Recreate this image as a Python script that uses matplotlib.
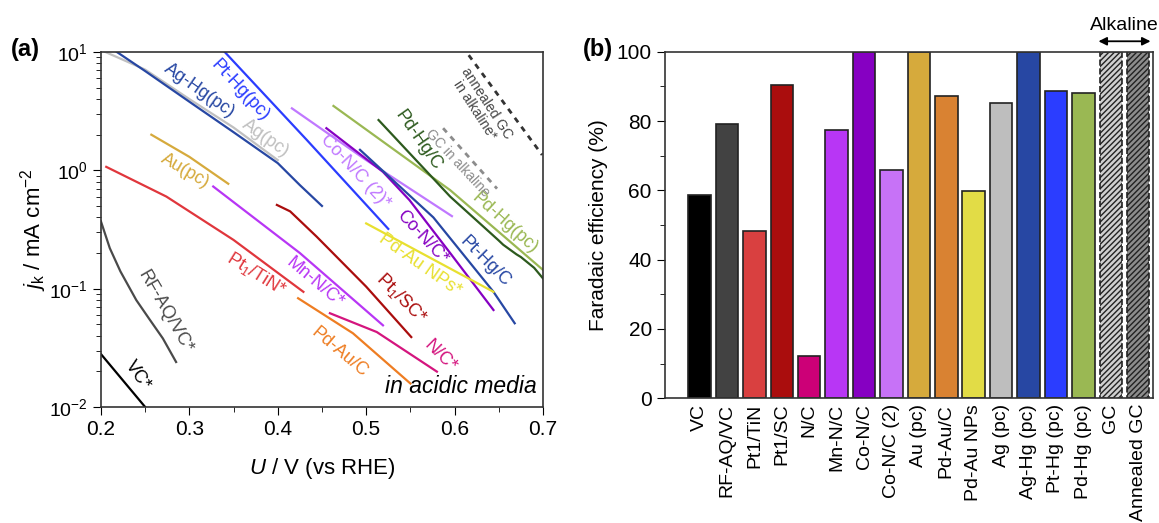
import matplotlib
matplotlib.use('Agg')
import matplotlib.pyplot as plt
import numpy as np

plt.rcParams['font.family'] = ['Liberation Sans', 'DejaVu Sans']
plt.rcParams['mathtext.fontset'] = 'custom'
plt.rcParams['mathtext.rm'] = 'Liberation Sans'
plt.rcParams['mathtext.it'] = 'Liberation Sans:italic'
plt.rcParams['hatch.linewidth'] = 1.0

# ---- panel (a): kinetic current curves (U in V vs RHE, jk in mA cm-2) ----
vc_x = [0.20, 0.25]
vc_y = [0.028, 0.010]
rfaq_x = [0.200, 0.210, 0.222, 0.240, 0.255, 0.270, 0.285]
rfaq_y = [0.37, 0.22, 0.14, 0.080, 0.055, 0.038, 0.024]
ag_x = [0.205, 0.25, 0.30, 0.35, 0.40]
ag_y = [10.0, 7.1, 4.0, 2.3, 1.22]
aghg_x = [0.218, 0.25, 0.30, 0.35, 0.40, 0.425, 0.45]
aghg_y = [10.0, 6.9, 3.8, 2.1, 1.15, 0.75, 0.50]
pthg_x = [0.340, 0.433, 0.525]
pthg_y = [10.0, 1.80, 0.32]
au_x = [0.257, 0.30, 0.344]
au_y = [2.0, 1.3, 0.77]
pttin_x = [0.206, 0.274, 0.35, 0.429]
pttin_y = [1.07, 0.60, 0.258, 0.094]
mnnc_x = [0.327, 0.425, 0.519]
mnnc_y = [0.73, 0.20, 0.049]
ptsc_x = [0.399, 0.414, 0.444, 0.50, 0.551]
ptsc_y = [0.51, 0.45, 0.275, 0.104, 0.039]
pdauc_x = [0.423, 0.485, 0.55]
pdauc_y = [0.083, 0.042, 0.0158]
nc_x = [0.459, 0.512, 0.58]
nc_y = [0.062, 0.043, 0.0199]
conc2_x = [0.416, 0.50, 0.597]
conc2_y = [3.34, 1.22, 0.41]
conc_x = [0.455, 0.519, 0.549, 0.595, 0.644]
conc_y = [2.27, 0.97, 0.56, 0.20, 0.066]
pthgc_x = [0.493, 0.576, 0.644, 0.668]
pthgc_y = [1.49, 0.40, 0.094, 0.051]
pdaunp_x = [0.50, 0.644]
pdaunp_y = [0.356, 0.094]
pdhgpc_x = [0.463, 0.595, 0.70]
pdhgpc_y = [3.5, 0.68, 0.144]
pdhgc_x = [0.514, 0.595, 0.650, 0.655, 0.670, 0.675, 0.690, 0.70]
pdhgc_y = [2.66, 0.60, 0.255, 0.235, 0.195, 0.185, 0.150, 0.122]
gc_x = [0.587, 0.648]
gc_y = [2.27, 0.70]
agc_x = [0.616, 0.699]
agc_y = [9.4, 1.35]

# ---- panel (b): Faradaic efficiency ----
catalysts = ['VC', 'RF-AQ/VC', 'Pt1/TiN', 'Pt1/SC', 'N/C', 'Mn-N/C', 'Co-N/C',
             'Co-N/C (2)', 'Au (pc)', 'Pd-Au/C', 'Pd-Au NPs', 'Ag (pc)',
             'Ag-Hg (pc)', 'Pt-Hg (pc)', 'Pd-Hg (pc)', 'GC', 'Annealed GC']
efficiency = [58.7, 79.0, 48.2, 90.5, 12.3, 77.5, 100.0, 65.9, 100.0, 87.3,
              59.7, 85.1, 100.0, 88.7, 88.0, 100.0, 100.0]
bar_colors = ['#000000', '#424242', '#d94040', '#aa0d0d', '#cc0077', '#b836f5',
              '#8600c2', '#c772f7', '#d6aa3c', '#d98232', '#e2dc46', '#bebebe',
              '#2747a3', '#2b3dff', '#9ab853', '#cfcfcf', '#8c8c8c']

fig = plt.figure(figsize=(11.59, 5.23), dpi=100)

# ================= (a) =================
ax = fig.add_axes([0.0871, 0.2218, 0.3814, 0.6788])
lw = 1.6
ax.plot(vc_x, vc_y, color='#000000', lw=lw)
ax.plot(rfaq_x, rfaq_y, color='#4a4a4a', lw=lw)
ax.plot(ag_x, ag_y, color='#c0c0c0', lw=lw)
ax.plot(aghg_x, aghg_y, color='#2747a3', lw=lw)
ax.plot(pthg_x, pthg_y, color='#2b3dff', lw=lw)
ax.plot(au_x, au_y, color='#d6aa3c', lw=lw)
ax.plot(pttin_x, pttin_y, color='#e0363c', lw=lw)
ax.plot(mnnc_x, mnnc_y, color='#b836f5', lw=lw)
ax.plot(ptsc_x, ptsc_y, color='#aa0d0d', lw=lw)
ax.plot(pdauc_x, pdauc_y, color='#ee7d22', lw=lw)
ax.plot(nc_x, nc_y, color='#d4157e', lw=lw)
ax.plot(conc2_x, conc2_y, color='#c078ff', lw=lw)
ax.plot(conc_x, conc_y, color='#8600c2', lw=lw)
ax.plot(pthgc_x, pthgc_y, color='#2747a3', lw=lw)
ax.plot(pdaunp_x, pdaunp_y, color='#e8e030', lw=lw)
ax.plot(pdhgpc_x, pdhgpc_y, color='#9ab853', lw=lw)
ax.plot(pdhgc_x, pdhgc_y, color='#2d5a1e', lw=lw)
ax.plot(gc_x, gc_y, color='#8c8c8c', lw=2, ls=(0, (2, 2)))
ax.plot(agc_x, agc_y, color='#333333', lw=2, ls=(0, (2, 2)))

labels = [
    (0.311, 4.75, 'Ag-Hg(pc)', '#2747a3', -35, 13),
    (0.357, 4.7, 'Pt-Hg(pc)', '#2b3dff', -47, 13),
    (0.386, 1.85, 'Ag(pc)', '#c0c0c0', -35, 13),
    (0.295, 0.98, 'Au(pc)', '#d6aa3c', -30, 13),
    (0.376, 0.132, 'Pt$_1$/TiN*', '#e0363c', -32, 13),
    (0.442, 0.112, 'Mn-N/C*', '#b836f5', -40, 13),
    (0.540, 0.083, 'Pt$_1$/SC*', '#aa0d0d', -45, 13),
    (0.470, 0.029, 'Pd-Au/C', '#ee7d22', -40, 13),
    (0.584, 0.027, 'N/C*', '#d4157e', -45, 13),
    (0.272, 0.064, 'RF-AQ/VC*', '#4a4a4a', -60, 13),
    (0.242, 0.0185, 'VC*', '#000000', -55, 13),
    (0.488, 0.97, 'Co-N/C (2)*', '#c078ff', -47, 13),
    (0.563, 0.27, 'Co-N/C*', '#8600c2', -47, 13),
    (0.561, 0.160, 'Pd-Au NPs*', '#e8e030', -35, 13),
    (0.634, 0.170, 'Pt-Hg/C', '#2747a3', -45, 13),
    (0.657, 0.36, 'Pd-Hg(pc)', '#9ab853', -42, 13),
    (0.559, 1.80, 'Pd-Hg/C', '#2d5a1e', -55, 13),
    (0.603, 1.15, 'GC in alkaline', '#8c8c8c', -47, 10),
    (0.630, 3.45, 'annealed GC\nin alkaline*', '#444444', -57, 10),
]
for x, y, s, c, rot, fs in labels:
    ax.text(x, y, s, color=c, rotation=rot, rotation_mode='anchor',
            ha='center', va='center', fontsize=fs, linespacing=1.0)

ax.text(0.693, 0.0148, 'in acidic media', style='italic', fontsize=16.5,
        ha='right', va='center')

ax.set_yscale('log')
ax.set_xlim(0.2, 0.7)
ax.set_ylim(0.01, 10)
ax.set_xticks([0.2, 0.3, 0.4, 0.5, 0.6, 0.7])
ax.set_xticks(np.arange(0.25, 0.7, 0.1), minor=True)
ax.tick_params(which='major', direction='out', length=6, top=False, right=False)
ax.tick_params(which='minor', direction='out', length=3.5, top=False, right=False)
ax.tick_params(axis='x', labelsize=15)
ax.tick_params(axis='y', labelsize=14)
ax.set_xlabel('$\\it{U}$ / V (vs RHE)', fontsize=16, labelpad=12)
ax.set_ylabel('$\\it{j}_\\mathrm{k}$ / mA cm$^{-2}$', fontsize=16, labelpad=0)
for sp in ax.spines.values():
    sp.set_color('#333333')
    sp.set_linewidth(1.2)

fig.text(0.009, 0.905, '(a)', fontsize=17, fontweight='bold', va='center')

# ================= (b) =================
bx = fig.add_axes([0.5738, 0.2384, 0.4208, 0.6628])
pos = np.arange(len(catalysts))
for i in range(len(catalysts)):
    if catalysts[i] in ('GC', 'Annealed GC'):
        bx.bar(pos[i], efficiency[i], width=0.82, color=bar_colors[i],
               edgecolor='#222222', linestyle='--', linewidth=1.2, hatch='//////')
    else:
        bx.bar(pos[i], efficiency[i], width=0.82, color=bar_colors[i],
               edgecolor='#222222', linewidth=1.2)

bx.set_xlim(-1.26, len(catalysts) - 0.47)
bx.set_ylim(0, 100)
bx.set_yticks([0, 20, 40, 60, 80, 100])
bx.set_yticks(np.arange(10, 100, 20), minor=True)
bx.set_xticks(pos)
bx.set_xticklabels(catalysts, rotation=90, fontsize=14)
bx.tick_params(axis='x', length=0, pad=4)
bx.tick_params(axis='y', which='major', direction='out', length=6, labelsize=15)
bx.tick_params(axis='y', which='minor', direction='out', length=3.5)
bx.set_ylabel('Faradaic efficiency (%)', fontsize=15, labelpad=6)
for sp in bx.spines.values():
    sp.set_color('#333333')
    sp.set_linewidth(1.2)

bx.annotate('', xy=(15 - 0.45, 103), xytext=(16 + 0.45, 103),
            xycoords='data', textcoords='data', annotation_clip=False,
            arrowprops=dict(arrowstyle='<|-|>', color='black', lw=1.3,
                            mutation_scale=12, shrinkA=0, shrinkB=0))
bx.text(15.5, 107.5, 'Alkaline', ha='center', va='center', fontsize=14, clip_on=False)

fig.text(0.503, 0.905, '(b)', fontsize=17, fontweight='bold', va='center')

fig.savefig('out.png', dpi=100)
